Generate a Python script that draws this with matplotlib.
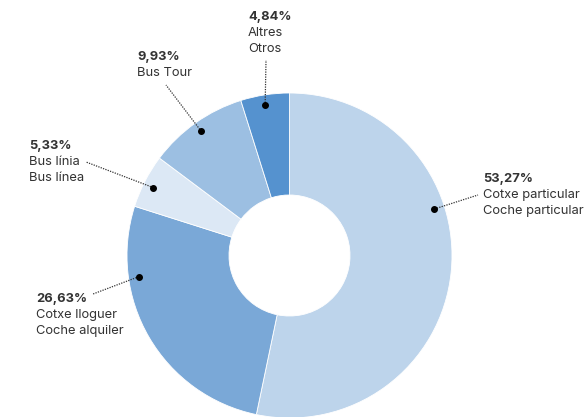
import numpy as np
import matplotlib
matplotlib.use('Agg')
from matplotlib import pyplot as plt

# share of trips by mode (clockwise from the top)
shares = [53.27, 26.63, 5.33, 9.93, 4.84]
pct_labels = ['53,27%', '26,63%', '5,33%', '9,93%', '4,84%']
names_ca = ['Cotxe particular', 'Cotxe lloguer', 'Bus línia', 'Bus Tour', 'Altres']
names_es = ['Coche particular', 'Coche alquiler', 'Bus línea', None, 'Otros']
colors = ['#bdd4eb', '#7aa8d7', '#dce8f5', '#9cbfe2', '#5592cf']

# layout (pixel space, y measured from the top)
W, H = 588, 417
cx, cy, R, hole = 289.5, 255.5, 162.5, 60.5
dot_ang = [17.8, 188.0, 153.5, 125.4, 99.2]
dot_r = 0.937
line_end = [(478, 195), (93, 294), (86, 162), (166, 85), (266, 60)]
text_xy = [(483, 179), (36, 299), (29, 146), (137, 57), (248, 17)]
gap = 16
fs = 9.3

plt.rcParams['font.family'] = ['Inter', 'DejaVu Sans']
fig = plt.figure(figsize=(W/100, H/100), dpi=100)
ax = fig.add_axes([0, 0, 1, 1])

ax.pie(shares, colors=colors, startangle=90, counterclock=False,
       center=(cx, H - cy), radius=R, frame=True,
       wedgeprops=dict(width=R - hole, edgecolor='white', linewidth=0.6))
ax.set_xlim(0, W)
ax.set_ylim(0, H)
ax.set_aspect('equal')
ax.axis('off')

txt = '#333333'
for i in range(len(shares)):
    a = np.radians(dot_ang[i])
    dx = cx + R * dot_r * np.cos(a)
    dy = (H - cy) + R * dot_r * np.sin(a)
    ex, ey = line_end[i]
    ax.plot([dx, ex], [dy, H - ey], ls=(0, (1, 1)), lw=0.9, color=txt)
    ax.plot(dx, dy, 'o', ms=4, color='black')
    tx, ty = text_xy[i]
    ax.text(tx, H - ty, pct_labels[i], fontsize=fs, fontweight='bold',
            color=txt, ha='left', va='center')
    ax.text(tx, H - ty - gap, names_ca[i], fontsize=fs, color=txt,
            ha='left', va='center')
    if names_es[i]:
        ax.text(tx, H - ty - 2 * gap, names_es[i], fontsize=fs, color=txt,
                ha='left', va='center')

fig.savefig('out.png', dpi=100)
